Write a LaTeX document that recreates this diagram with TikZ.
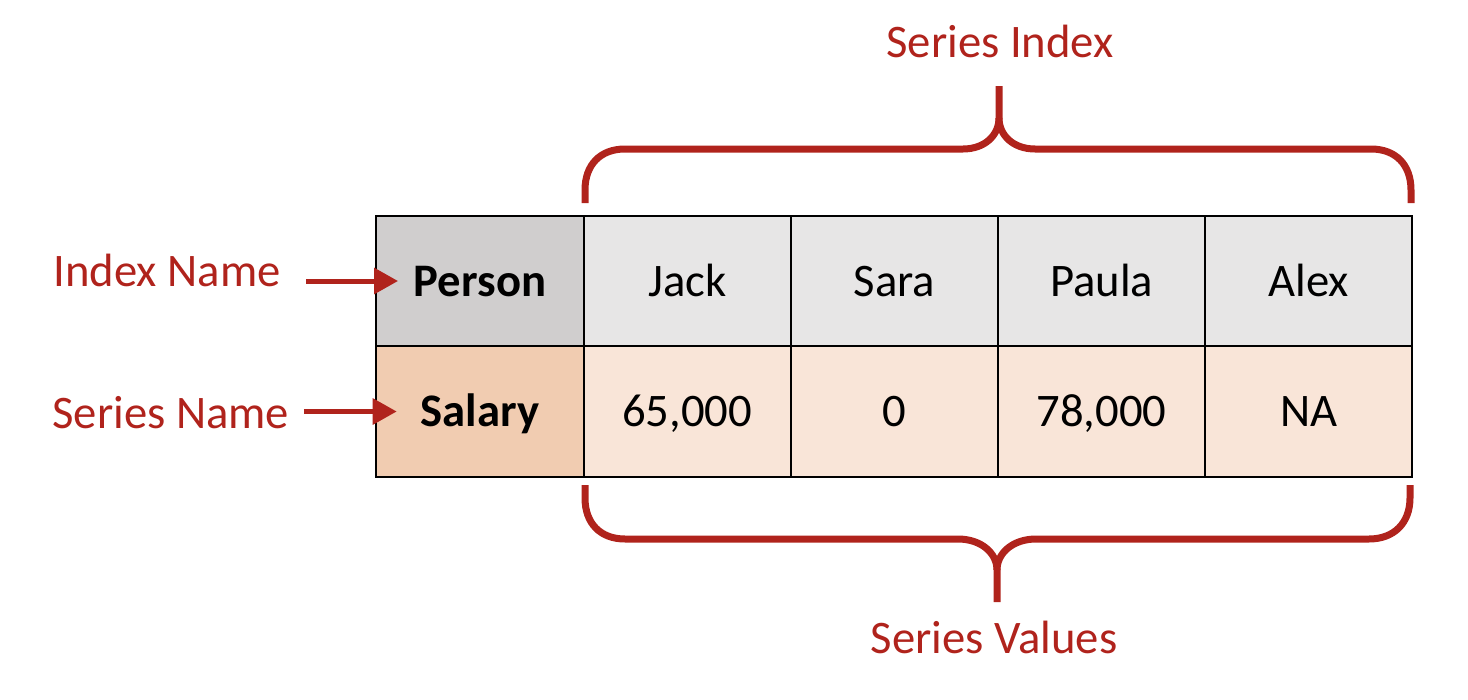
\documentclass[tikz,border=0pt]{standalone}
\usepackage{fontspec}
\setmainfont{Carlito}
\usetikzlibrary{arrows.meta}
\tikzset{every picture/.style={line width=0.75pt}}
\tikzset{
  cell/.style={draw, line width=1.5pt, minimum width=155.4pt, minimum height=97.8pt, inner sep=0pt, text height=22.5pt, text depth=0pt, font=\fontsize{35}{42}\selectfont},
  hdrname/.style={cell, fill={rgb, 255:red, 208; green, 206; blue, 206 }},
  hdr/.style={cell, fill={rgb, 255:red, 231; green, 230; blue, 230 }},
  valname/.style={cell, fill={rgb, 255:red, 241; green, 204; blue, 177 }},
  val/.style={cell, fill={rgb, 255:red, 249; green, 229; blue, 216 }},
  redlbl/.style={inner sep=0.75pt, text={rgb, 255:red, 176; green, 35; blue, 28 }, font=\fontsize{35}{42}\selectfont},
  brace/.style={draw={rgb, 255:red, 176; green, 35; blue, 28 }, line width=5.25pt},
  redarrow/.style={draw={rgb, 255:red, 176; green, 35; blue, 28 }, line width=3.75pt, -{Triangle[length=18pt, width=19pt]}}
}

\begin{document}
\begin{tikzpicture}[x=0.75pt,y=0.75pt,yscale=-1,xscale=1]
\useasboundingbox (0,0) rectangle (1468,700);

%Shape: Table, header row
\node [hdrname] (person) at (480,281) {\textbf{Person}};
\node [hdr] (jack) at (687.2,281) {Jack};
\node [hdr] (sara) at (894.4,281) {Sara};
\node [hdr] (paula) at (1101.6,281) {Paula};
\node [hdr] (alex) at (1308.8,281) {Alex};
%Shape: Table, value row
\node [valname] (salary) at (480,411.5) {\textbf{Salary}};
\node [val] (vjack) at (687.2,411.5) {65,000};
\node [val] (vsara) at (894.4,411.5) {0};
\node [val] (vpaula) at (1101.6,411.5) {78,000};
\node [val] (valex) at (1308.8,411.5) {NA};

%Curve Lines: top brace
\draw [brace] (585,203) -- (585,190) .. controls (585,165) and (600,149) .. (625,149) -- (963,149) .. controls (985,149) and (999,135) .. (999,118) -- (999,86) ;
\draw [brace] (999,118) .. controls (999,135) and (1013,149) .. (1035,149) -- (1371,149) .. controls (1396,149) and (1411,165) .. (1411,190) -- (1411,203) ;
%Curve Lines: bottom brace
\draw [brace] (585,485) -- (585,498) .. controls (585,523) and (600,539) .. (625,539) -- (958,539) .. controls (981,539) and (997,553) .. (997,570) -- (997,602) ;
\draw [brace] (997,570) .. controls (997,553) and (1013,539) .. (1036,539) -- (1369,539) .. controls (1394,539) and (1410,523) .. (1410,498) -- (1410,485) ;

% Text Node
\node [redlbl, anchor=base] (seridx) at (1000,57) {Series Index};
% Text Node
\node [redlbl, anchor=base] (servals) at (994,653) {Series Values};
% Text Node
\node [redlbl, anchor=base west] (idxname) at (52,286) {Index Name};
% Text Node
\node [redlbl, anchor=base west] (sername) at (51,428) {Series Name};

%Straight Lines
\draw [redarrow] ([xshift=18pt]idxname.east |- person.west) -- ([xshift=17pt]person.west) ;
\draw [redarrow] ([xshift=10pt]sername.east |- salary.west) -- ([xshift=16pt]salary.west) ;

\end{tikzpicture}
\end{document}
